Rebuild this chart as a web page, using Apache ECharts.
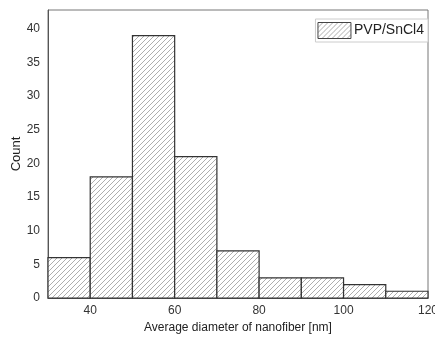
<!DOCTYPE html>
<html>
<head>
<meta charset="utf-8">
<script src="https://cdn.jsdelivr.net/npm/echarts@6/dist/echarts.min.js"></script>
<style>
  html, body { margin: 0; padding: 0; background: #fff; }
  #chart { width: 435px; height: 338px; }
</style>
</head>
<body>
<div id="chart"></div>
<script>
// histogram bins (nm) and counts
const binStart = [30, 40, 50, 60, 70, 80, 90, 100, 110];
const binEnd = [40, 50, 60, 70, 80, 90, 100, 110, 120];
const counts = [6, 18, 39, 21, 7, 3, 3, 2, 1];
const seriesName = 'PVP/SnCl4';

function makeHatch() {
  const size = 5;
  const c = document.createElement('canvas');
  c.width = size;
  c.height = size;
  const ctx = c.getContext('2d');
  ctx.fillStyle = '#fff';
  ctx.fillRect(0, 0, size, size);
  ctx.strokeStyle = '#999';
  ctx.lineWidth = 0.8;
  ctx.beginPath();
  ctx.moveTo(0, size);
  ctx.lineTo(size, 0);
  ctx.moveTo(-1, 1);
  ctx.lineTo(1, -1);
  ctx.moveTo(size - 1, size + 1);
  ctx.lineTo(size + 1, size - 1);
  ctx.stroke();
  return c;
}
const hatch = { image: makeHatch(), repeat: 'repeat' };

const chart = echarts.init(document.getElementById('chart'));

chart.setOption({
  animation: false,
  textStyle: { fontFamily: 'Liberation Sans, Arial, sans-serif' },
  grid: {
    left: 48,
    right: 7,
    top: 10,
    bottom: 40,
    outerBoundsMode: 'none',
    containLabel: false,
    show: true,
    borderColor: '#777',
    borderWidth: 1,
  },
  legend: {
    right: 7,
    top: 19,
    data: [{ name: seriesName, icon: 'rect' }],
    itemWidth: 33,
    itemHeight: 16,
    padding: [3, 4, 3, 2],
    itemGap: 4,
    borderColor: '#ccc',
    borderWidth: 1,
    backgroundColor: '#fff',
    itemStyle: { color: hatch, borderColor: '#444', borderWidth: 1 },
    textStyle: { color: '#222', fontSize: 14, padding: [0, 0, 0, -2] },
  },
  xAxis: {
    type: 'value',
    min: 30,
    max: 120,
    interval: 10,
    name: 'Average diameter of nanofiber [nm]',
    nameLocation: 'middle',
    nameGap: 24,
    nameMoveOverlap: false,
    nameTextStyle: { color: '#222', fontSize: 12 },
    axisLine: { show: true, lineStyle: { color: '#555' } },
    axisTick: { show: false },
    axisLabel: {
      color: '#333',
      fontSize: 12,
      margin: 7,
      formatter: (v) => (v % 20 === 0 ? String(v) : ''),
    },
    splitLine: { show: false },
  },
  yAxis: {
    type: 'value',
    min: 0,
    max: 42.8,
    interval: 5,
    name: 'Count',
    nameLocation: 'middle',
    nameGap: 25,
    nameMoveOverlap: false,
    nameTextStyle: { color: '#222', fontSize: 13 },
    axisLine: { show: true, lineStyle: { color: '#555' } },
    axisTick: { show: false },
    axisLabel: {
      color: '#333',
      fontSize: 12,
      margin: 8,
      showMaxLabel: false,
      formatter: (v) => (v % 5 === 0 ? String(v) : ''),
    },
    splitLine: { show: false },
  },
  series: [
    {
      name: seriesName,
      type: 'custom',
      itemStyle: { color: hatch },
      encode: { x: [0, 1], y: 2 },
      data: counts.map((c, i) => [binStart[i], binEnd[i], c]),
      renderItem: (params, api) => {
        const p0 = api.coord([api.value(0), api.value(2)]);
        const p1 = api.coord([api.value(1), 0]);
        return {
          type: 'rect',
          shape: { x: p0[0], y: p0[1], width: p1[0] - p0[0], height: p1[1] - p0[1] },
          style: { fill: hatch, stroke: '#333', lineWidth: 1.2 },
        };
      },
    },
  ],
});
</script>
</body>
</html>
